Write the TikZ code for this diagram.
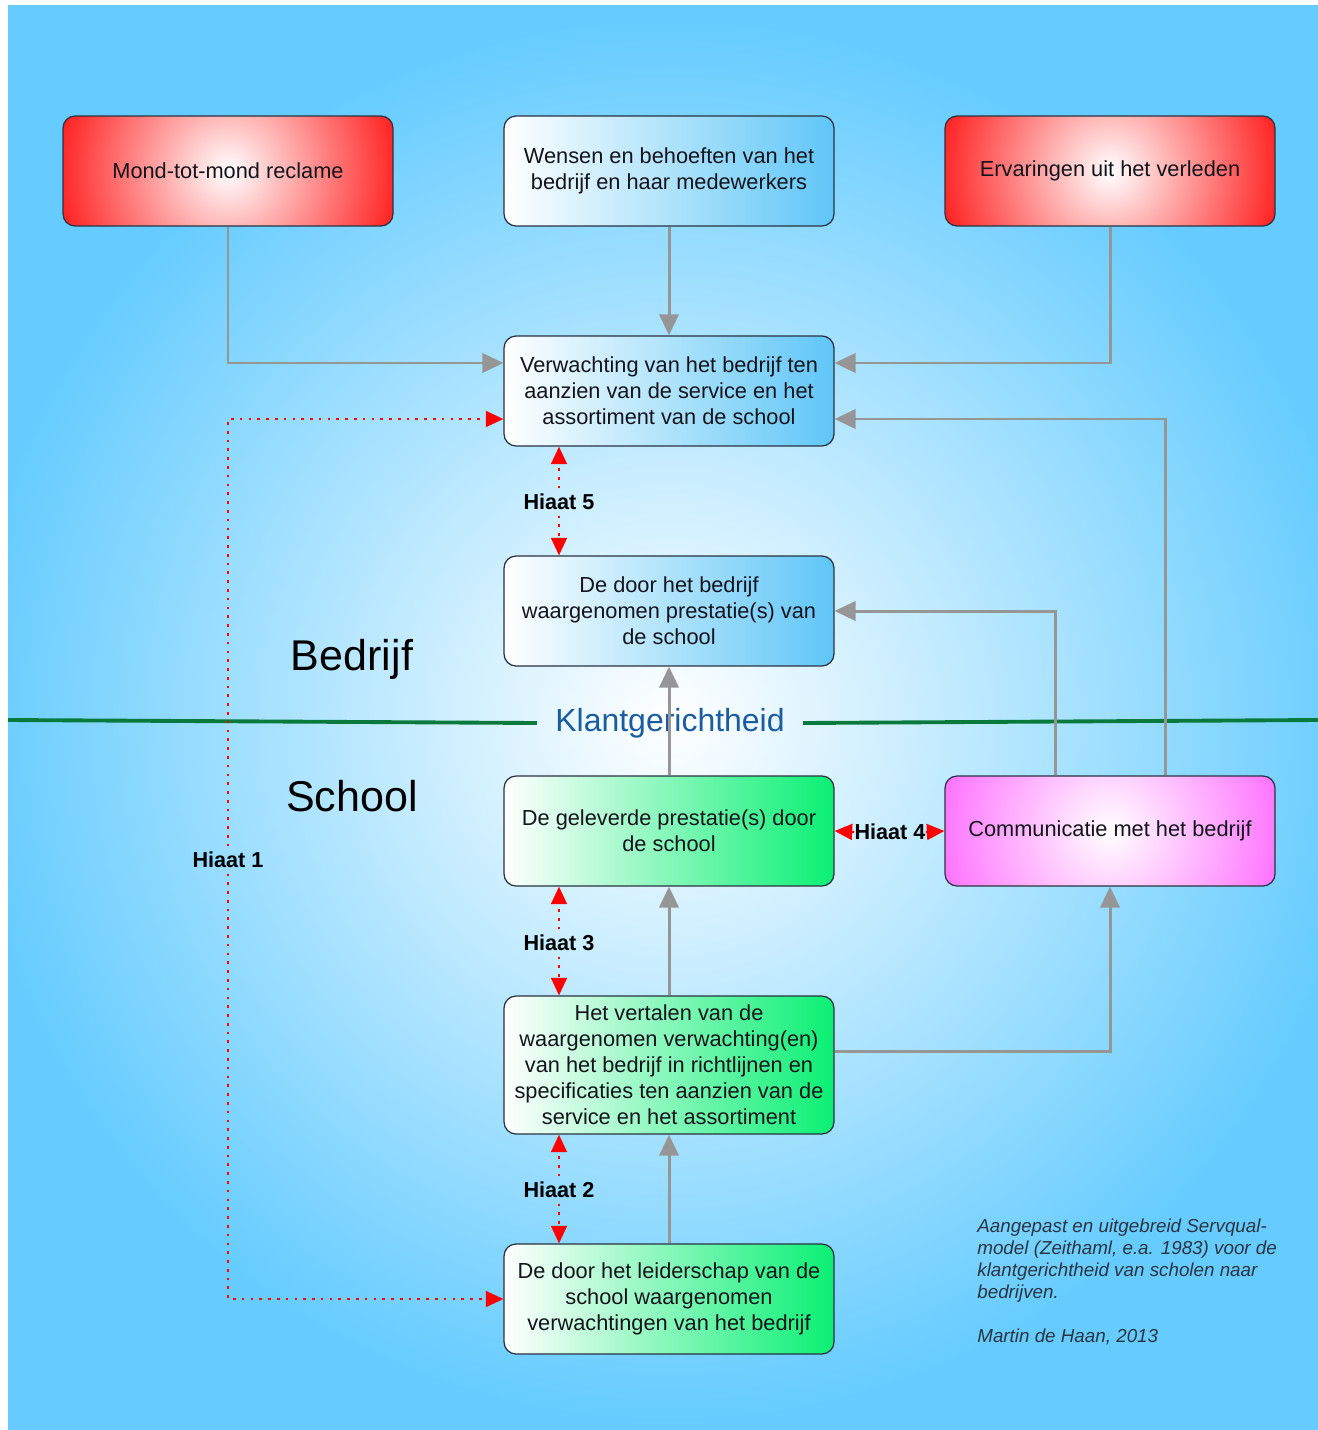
\documentclass[tikz,border=0pt]{standalone}
\usepackage{fontspec}
\setmainfont{Liberation Sans}
\usetikzlibrary{arrows.meta,calc}

\definecolor{skyblue}{RGB}{102,204,255}
\definecolor{boxred}{RGB}{255,10,10}
\definecolor{boxpink}{RGB}{255,100,255}
\definecolor{boxgreen}{RGB}{10,240,115}
\definecolor{boxblue}{RGB}{95,198,248}
\definecolor{boxline}{RGB}{40,50,64}
\definecolor{textdark}{RGB}{20,20,28}
\definecolor{arrowgray}{RGB}{150,150,150}
\definecolor{linegreen}{RGB}{10,122,60}
\definecolor{klantblue}{RGB}{26,92,160}
\definecolor{notegray}{RGB}{40,52,66}

\begin{document}
\begin{tikzpicture}[x=0.02cm, y=-0.02cm,
		box/.style={draw=boxline, line width=0.7pt, rounded corners=0.24cm,
			minimum width=6.6cm, minimum height=2.2cm, align=center,
			text=textdark, font=\fontsize{12.4}{14.8}\selectfont},
		bluebox/.style={box, left color=white, right color=#1},
		glowbox/.style={box, fill=#1, path picture={
				\shade[inner color=white, outer color=#1]
				(path picture bounding box.center) circle (3.8cm);}},
		feed/.style={draw=arrowgray, line width=1.7pt, -{Triangle[length=12pt, width=11pt]}},
		hiaatline/.style={draw=red, line width=1.3pt, dash pattern=on 1.5pt off 3.5pt,
			-{Triangle[length=10pt, width=9pt]}},
		hiaat/.style={font=\fontsize{12.3}{14}\selectfont\bfseries, text=black, inner sep=3pt},
		sidelabel/.style={font=\fontsize{24.5}{28}\selectfont, text=black},
		divider/.style={draw=linegreen, line width=2.2pt}]

	% background
	\useasboundingbox (0,0) rectangle (1318,1430);
	\fill[white] (0,0) rectangle (1318,1430);
	\begin{scope}
		\clip (8,5) rectangle (1318,1430);
		\fill[skyblue] (8,5) rectangle (1318,1430);
		\shade[inner color=white, outer color=skyblue] (669,720) circle (700);
	\end{scope}

	% divider
	\coordinate (lineL) at (8,720);
	\coordinate (lineR) at (1318,720);
	\node[inner xsep=0.36cm, text=klantblue, font=\fontsize{18.2}{21}\selectfont] (klant) at (670,723) {Klantgerichtheid};
	\draw[divider] (lineL) -- (klant.west);
	\draw[divider] (klant.east) -- (lineR);

	\node[sidelabel] (bedrijf) at (352,659) {Bedrijf};
	\node[sidelabel] (school) at (352,796) {School};

	% boxes
	\node[glowbox=boxred] (mond) at (228,171) {Mond-tot-mond reclame};
	\node[bluebox=boxblue] (wens) at (669,171) {Wensen en behoeften van het\\bedrijf en haar medewerkers};
	\node[glowbox=boxred] (erv) at (1110,171) {Ervaringen uit het verleden};
	\node[bluebox=boxblue] (verw) at (669,391) {Verwachting van het bedrijf ten\\aanzien van de service en het\\assortiment van de school};
	\node[bluebox=boxblue] (waar) at (669,611) {De door het bedrijf\\waargenomen prestatie(s) van\\de school};
	\node[bluebox=boxgreen] (gel) at (669,831) {De geleverde prestatie(s) door\\de school};
	\node[glowbox=boxpink] (comm) at (1110,831) {Communicatie met het bedrijf};
	\node[bluebox=boxgreen, minimum height=2.76cm] (vert) at (669,1065) {Het vertalen van de\\waargenomen verwachting(en)\\van het bedrijf in richtlijnen en\\specificaties ten aanzien van de\\service en het assortiment};
	\node[bluebox=boxgreen] (leid) at (669,1299) {De door het leiderschap van de\\school waargenomen\\verwachtingen van het bedrijf};

	% gray arrows
	\draw[feed] (mond.south) |- ($(verw.west)+(0,-28)$);
	\draw[feed] (wens.south) -- (verw.north);
	\draw[feed] (erv.south) |- ($(verw.east)+(0,-28)$);
	\draw[feed] ($(comm.north)+(55,0)$) |- ($(verw.east)+(0,28)$);
	\draw[feed] ($(comm.north)+(-55,0)$) |- (waar.east);
	\draw[feed] (gel.north) -- (waar.south);
	\draw[feed] (vert.north) -- (gel.south);
	\draw[feed] ($(vert.east)+(0,-14)$) -| (comm.south);
	\draw[feed] (leid.north) -- (vert.south);

	% gaps
	\node[hiaat] (h1) at (228,860) {Hiaat 1};
	\node[hiaat] (h2) at (559,1190) {Hiaat 2};
	\node[hiaat] (h3) at (559,943) {Hiaat 3};
	\node[hiaat, inner sep=0pt] (h4) at (890,832) {Hiaat 4};
	\node[hiaat] (h5) at (559,502) {Hiaat 5};

	\draw[hiaatline] (h1.north) |- ($(verw.west)+(0,28)$);
	\draw[hiaatline] (h1.south) |- (leid.west);
	\draw[hiaatline] (h2.north) -- (h2.north |- vert.south);
	\draw[hiaatline] (h2.south) -- (h2.south |- leid.north);
	\draw[hiaatline] (h3.north) -- (h3.north |- gel.south);
	\draw[hiaatline] (h3.south) -- (h3.south |- vert.north);
	\draw[hiaatline] (h4.west) -- (gel.east);
	\draw[hiaatline] (h4.east) -- (comm.west);
	\draw[hiaatline] (h5.north) -- (h5.north |- verw.south);
	\draw[hiaatline] (h5.south) -- (h5.south |- waar.north);

	% note
	\node[anchor=north west, inner sep=0pt, align=left, text=notegray,
		font=\fontsize{10.7}{12.5}\selectfont\itshape] (note) at (977,1219)
		{Aangepast en uitgebreid Servqual-\\model (Zeithaml, e.a. 1983) voor de\\klantgerichtheid van scholen naar\\bedrijven.\\[12.5pt]Martin de Haan, 2013};

\end{tikzpicture}
\end{document}
